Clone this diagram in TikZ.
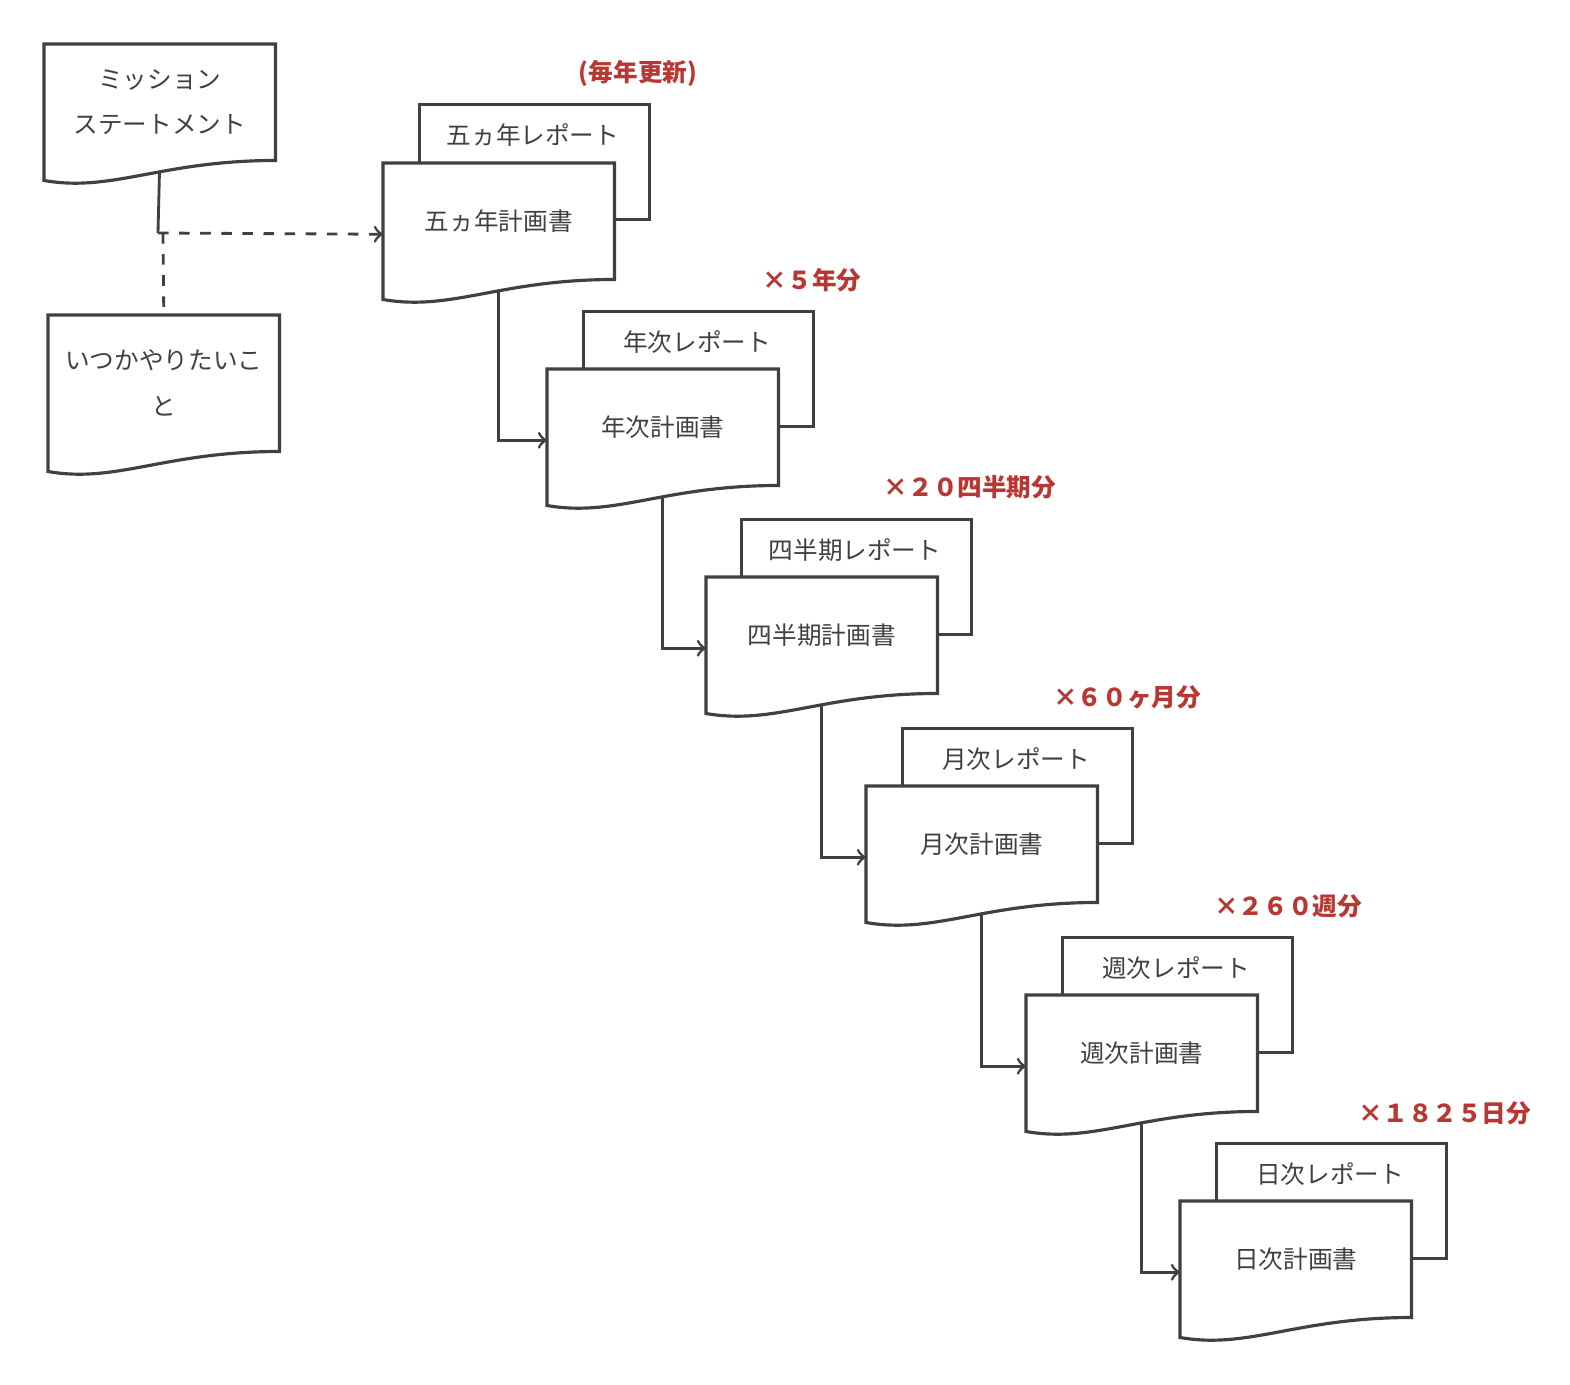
\documentclass[tikz,border=0pt]{standalone}
\usepackage{fontspec}
\setmainfont{Noto Sans CJK JP}
\usetikzlibrary{backgrounds}
\definecolor{lab}{RGB}{185,55,50}
\newcommand\docw[3]{% name, width, height in px (node already placed)
  \path[draw=black!75,fill=white,line width=0.9pt]
   (#1.north west) -- (#1.north east) -- (#1.south east)
   .. controls ([xshift=-0.5*#2*0.01cm]#1.south east) and ([xshift=0.3*#2*0.01cm,yshift=-0.32cm]#1.south west) .. ([yshift=-0.2cm]#1.south west) -- cycle;}
\tikzset{
  box/.style={draw=none,inner sep=0pt,anchor=north west,minimum width=2.3cm,minimum height=1.15cm,font=\fontsize{7}{13}\selectfont,text=black!75,align=center},
  rep/.style={draw=black!75,fill=white,line width=0.9pt,inner sep=0pt,anchor=north west,minimum width=2.3cm,minimum height=1.15cm},
  reptext/.style={font=\fontsize{7}{9}\selectfont,text=black!75,inner sep=0pt},
  red/.style={font=\bfseries\fontsize{7}{9}\selectfont,text=lab,inner sep=0pt},
  con/.style={draw=black!75,line width=0.8pt,-to}
}
\begin{document}
\begin{tikzpicture}[x=0.01cm,y=-0.01cm]
\useasboundingbox (0,0) rectangle (1570,1384);
% mission and someday
\node[box] (m) at (44,44) {ミッション\\ステートメント};
\docw{m}{229}{116}
\node[box] at (44,44) {ミッション\\ステートメント};
\node[box,minimum height=1.35cm] (s) at (48,315) {いつかやりたいこ\\と};
\docw{s}{230}{135}
\node[box,minimum height=1.35cm] at (48,315) {いつかやりたいこ\\と};
% levels
\foreach \i/\rx/\ry/\px/\py/\rt/\pt in {
 1/418/103/383/163/五ヵ年レポート/五ヵ年計画書,
 2/582/310/547/369/年次レポート/年次計画書,
 3/740/518/706/577/四半期レポート/四半期計画書,
 4/901/727/866/786/月次レポート/月次計画書,
 5/1061/936/1026/995/週次レポート/週次計画書,
 6/1215/1142/1180/1201/日次レポート/日次計画書}{
  \node[rep] (r\i) at (\rx,\ry) {};
  \node[reptext] (rt\i) at (\rx+115,\ry+32) {\rt};
  \node[box] (p\i) at (\px,\py) {};
  \docw{p\i}{230}{115}
  \node[box] (pt\i) at (\px,\py) {\pt};
}
\node[red] (l0) at (638,73) {(毎年更新)};
\node[red] (l1) at (812,280) {×５年分};
\node[red] (l2) at (970,487) {×２０四半期分};
\node[red] (l3) at (1127,697) {×６０ヶ月分};
\node[red] (l4) at (1288,906) {×２６０週分};
\node[red] (l5) at (1445,1113) {×１８２５日分};
\coordinate (j) at (158,233);
\coordinate (jd) at (163,233);
\begin{pgfonlayer}{background}
\draw[draw=black!75,line width=0.8pt] (m.south) -- (j);
\draw[con,dashed] (j) -- ([yshift=-0.13cm]p1.west);
\draw[draw=black!75,line width=0.8pt,dashed] (jd) -- (s.north);
\foreach \a/\b in {1/2,2/3,3/4,4/5,5/6}
  \draw[con] (p\a.south) |- ([yshift=-0.13cm]p\b.west);
\end{pgfonlayer}
\end{tikzpicture}
\end{document}
